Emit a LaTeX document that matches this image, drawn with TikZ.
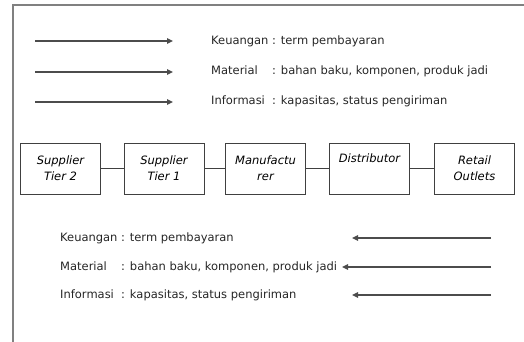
\documentclass[tikz,border=0pt]{standalone}
\usepackage{fontspec}
\setmainfont{DejaVu Sans}
\usetikzlibrary{arrows.meta}

\begin{document}
\begin{tikzpicture}[x=1pt, y=-1pt,
        chainbox/.style={draw=black!75, minimum width=80pt, minimum height=51pt, align=center,
            font=\fontsize{11.5}{16}\selectfont\itshape, inner sep=1pt},
        flowtext/.style={anchor=west, inner sep=0pt, font=\fontsize{11.5}{13}\selectfont, text=black!85},
        flow/.style={line width=1.4pt, draw=black!70, -{Triangle[length=6pt, width=5.5pt]}}]
        \useasboundingbox (0,0) rectangle (524,342);
        \draw[gray, line width=1.5pt] (13,342) -- (13,5) -- (524,5);

        % arus ke hilir
        \coordinate (k1s) at (35,41);  \coordinate (k1e) at (173,41);
        \coordinate (m1s) at (35,72);  \coordinate (m1e) at (173,72);
        \coordinate (i1s) at (35,102); \coordinate (i1e) at (173,102);
        \draw[flow] (k1s) -- (k1e);
        \draw[flow] (m1s) -- (m1e);
        \draw[flow] (i1s) -- (i1e);
        \node[flowtext] (keu1) at (211,41) {Keuangan : term pembayaran};
        \node[flowtext] (mat1) at (211,71) {\rlap{Material}\phantom{Informasi}\ \ : bahan baku, komponen, produk jadi};
        \node[flowtext] (inf1) at (211,101) {Informasi\ \ : kapasitas, status pengiriman};

        % rantai pasok
        \node[chainbox] (st2) at (60.5,168.5) {Supplier\\Tier 2};
        \node[chainbox] (st1) at (164,168.5) {Supplier\\Tier 1};
        \node[chainbox] (man) at (265.5,168.5) {Manufactu\\rer};
        \node[chainbox] (dis) at (369.5,168.5) {Distributor\\\strut};
        \node[chainbox] (ret) at (474.5,168.5) {Retail\\Outlets};
        \draw[black!75] (st2) -- (st1);
        \draw[black!75] (st1) -- (man);
        \draw[black!75] (man) -- (dis);
        \draw[black!75] (dis) -- (ret);

        % arus ke hulu
        \node[flowtext] (keu2) at (60,238) {Keuangan : term pembayaran};
        \node[flowtext] (mat2) at (60,267) {\rlap{Material}\phantom{Informasi}\ \ : bahan baku, komponen, produk jadi};
        \node[flowtext] (inf2) at (60,295) {Informasi\ \ : kapasitas, status pengiriman};
        \coordinate (k2s) at (491,238); \coordinate (k2e) at (352,238);
        \coordinate (m2s) at (491,267); \coordinate (m2e) at (342,267);
        \coordinate (i2s) at (491,295); \coordinate (i2e) at (352,295);
        \draw[flow] (k2s) -- (k2e);
        \draw[flow] (m2s) -- (m2e);
        \draw[flow] (i2s) -- (i2e);
    \end{tikzpicture}
\end{document}
